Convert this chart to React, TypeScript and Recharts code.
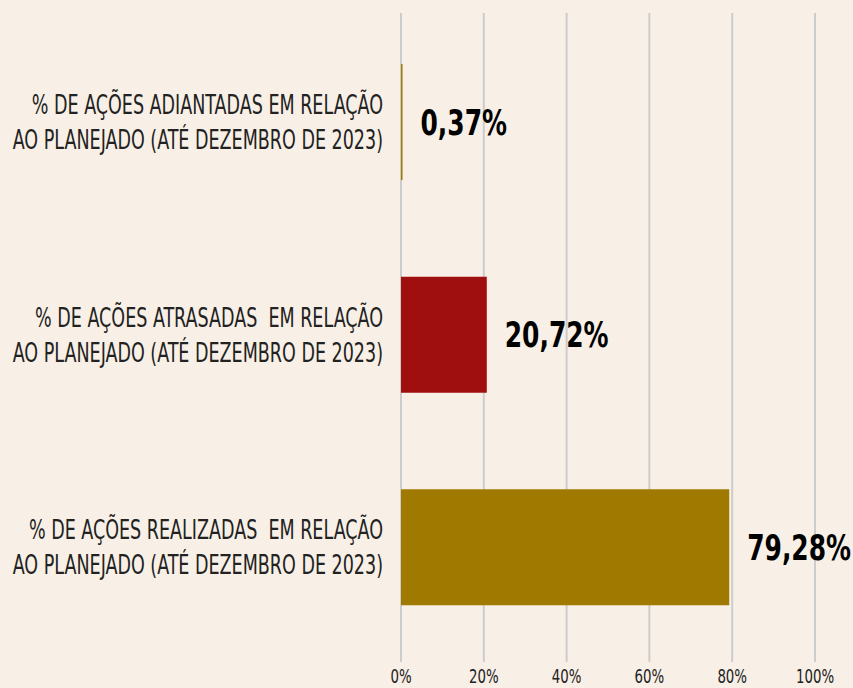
import { BarChart, Bar, XAxis, YAxis, CartesianGrid, Cell, LabelList } from "recharts";

const categories = [
  "% DE AÇÕES ADIANTADAS EM RELAÇÃO\nAO PLANEJADO (ATÉ DEZEMBRO DE 2023)",
  "% DE AÇÕES ATRASADAS  EM RELAÇÃO\nAO PLANEJADO (ATÉ DEZEMBRO DE 2023)",
  "% DE AÇÕES REALIZADAS  EM RELAÇÃO\nAO PLANEJADO (ATÉ DEZEMBRO DE 2023)",
];
const values = [0.37, 20.72, 79.28];
const barColors = ["#a07a00", "#a00f10", "#a07a00"];
const xTicks = [0, 20, 40, 60, 80, 100];

const data = categories.map((name, i) => ({ name, value: values[i] }));

const FONT = "'DejaVu Sans Condensed', 'Liberation Sans Narrow', sans-serif";

// eslint-disable-next-line @typescript-eslint/no-explicit-any
function CategoryTick(props: any) {
  const { x, y, payload } = props;
  const lines: string[] = String(payload.value).split("\n");
  return (
    <g transform={`translate(${x},${y}) scale(0.75,1)`}>
      <text textAnchor="end" fontFamily={FONT} fontSize={26} fill="#222" xmlSpace="preserve">
        {lines.map((l, i) => (
          <tspan key={i} x={0} y={(i - (lines.length - 1) / 2) * 35} dy="0.35em">
            {l}
          </tspan>
        ))}
      </text>
    </g>
  );
}

// eslint-disable-next-line @typescript-eslint/no-explicit-any
function PercentTick(props: any) {
  const { x, y, payload } = props;
  return (
    <g transform={`translate(${x},${y}) scale(0.78,1)`}>
      <text textAnchor="middle" fontFamily={FONT} fontSize={19} fill="#222" y={13}>
        {`${payload.value}%`}
      </text>
    </g>
  );
}

// eslint-disable-next-line @typescript-eslint/no-explicit-any
function ValueLabel(props: any) {
  const { x, y, width, height, value } = props;
  return (
    <g transform={`translate(${x + width + 18},${y + height / 2}) scale(0.77,1)`}>
      <text dy="0.35em" fontFamily={FONT} fontWeight={700} fontSize={36} fill="#000">
        {`${Number(value).toFixed(2).replace(".", ",")}%`}
      </text>
    </g>
  );
}

export default function App() {
  return (
    <div style={{ position: "absolute", left: 0, top: 0, width: 853, height: 688, background: "#f8f0e6" }}>
      <BarChart
        width={853}
        height={688}
        data={data}
        layout="vertical"
        margin={{ top: 13, right: 38, left: 0, bottom: 0 }}
      >
        <CartesianGrid horizontal={false} stroke="#cccccc" strokeWidth={2} />
        <XAxis
          type="number"
          domain={[0, 100]}
          ticks={xTicks}
          axisLine={false}
          tickLine={false}
          tick={<PercentTick />}
          height={26}
          interval={0}
        />
        <YAxis
          type="category"
          dataKey="name"
          width={401}
          axisLine={false}
          tickLine={false}
          tickSize={0}
          tickMargin={18}
          tick={<CategoryTick />}
          padding={{ top: 3, bottom: 8 }}
          interval={0}
        />
        <Bar dataKey="value" barSize={116} isAnimationActive={false}>
          {data.map((d, i) => (
            <Cell key={d.name} fill={barColors[i]} />
          ))}
          <LabelList dataKey="value" content={<ValueLabel />} />
        </Bar>
      </BarChart>
    </div>
  );
}
